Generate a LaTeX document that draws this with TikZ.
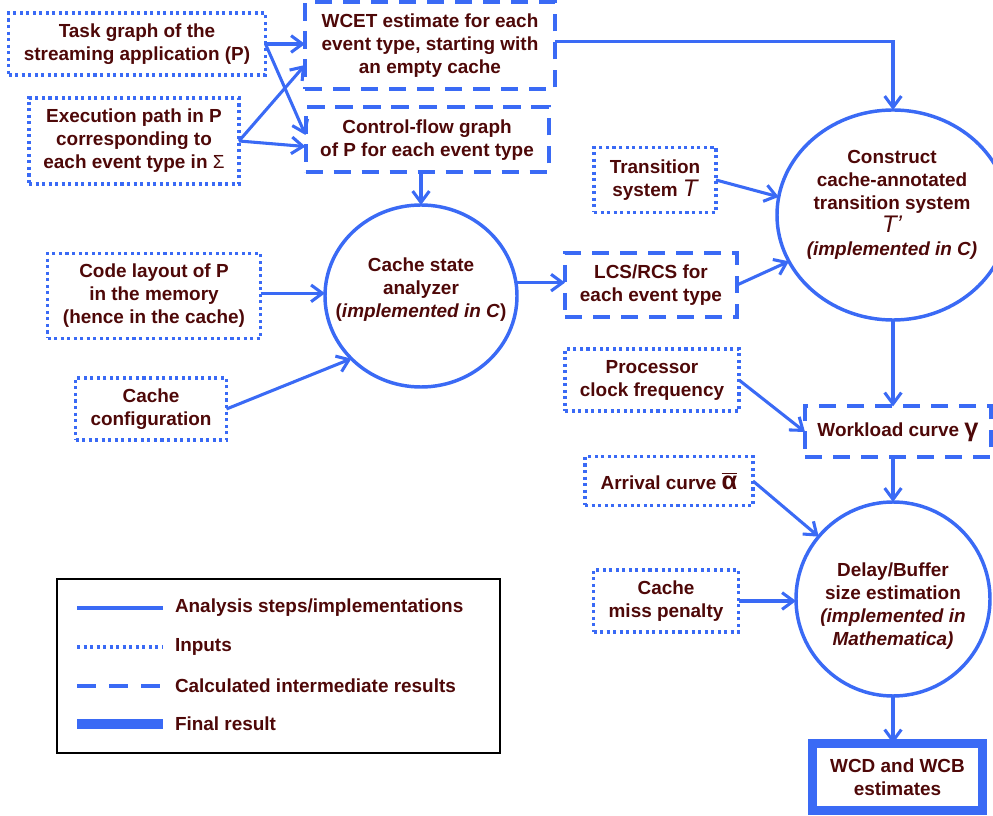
\documentclass[tikz,border=0pt]{standalone}
\usepackage{fontspec}
\setmainfont{Liberation Sans}
\usetikzlibrary{arrows.meta,shapes.geometric,calc}
\definecolor{myblue}{RGB}{58,106,245}
\definecolor{txt}{RGB}{78,8,8}
\begin{document}
\begin{tikzpicture}[x=0.75pt,y=-0.75pt,
  every node/.style={font=\fontsize{14.2}{17.2}\selectfont\bfseries, text=txt, align=center, inner sep=0pt, outer sep=0pt},
  sz/.style 2 args={minimum width=#1*0.75pt, minimum height=#2*0.75pt},
  inbox/.style={draw=myblue, line width=2.4pt, dash pattern=on 2.3pt off 2.6pt, rectangle},
  calcbox/.style={draw=myblue, line width=3pt, dash pattern=on 13pt off 8pt, rectangle},
  procnode/.style={draw=myblue, line width=2.6pt, ellipse},
  finalbox/.style={draw=myblue, line width=6.75pt, rectangle},
  conn/.style={draw=myblue, line width=2.3pt, -{Straight Barb[length=8.5pt,width=12.5pt,line width=2.3pt]}},
  ]
\useasboundingbox (0,0) rectangle (993,816);

% inputs
\node[inbox, sz={257}{62}] (task) at (137,44) {Task graph of the\\streaming application (P)};
\node[inbox, sz={210}{86}] (exec) at (134,141) {Execution path in P\\corresponding to\\each event type in {\mdseries Σ}};
\node[inbox, sz={122}{65}] (trans) at (655,180) {Transition\\system {\mdseries\itshape\fontsize{18}{17.2}\selectfont T}};
\node[inbox, sz={213}{85}] (code) at (154,296) {Code layout of P\\in the memory\\(hence in the cache)};
\node[inbox, sz={151}{62}] (cconf) at (151,409) {Cache\\configuration};
\node[inbox, sz={174}{62}] (proc) at (652,380) {Processor\\clock frequency};
\node[inbox, sz={168}{49}] (arr) at (669,481) {Arrival curve $\overline{\mbox{\bfseries\fontsize{19}{17}\selectfont α}}$};
\node[inbox, sz={145}{62}] (miss) at (666,601) {Cache\\miss penalty};

% intermediate results
\node[calcbox, sz={250}{87}] (wcet) at (430,46) {WCET estimate for each\\event type, starting with\\an empty cache};
\node[calcbox, sz={243}{65}] (cfg) at (427,140) {Control-flow graph\\of P for each event type};
\node[calcbox, sz={172}{64}] (lcs) at (651,285) {LCS/RCS for\\each event type};
\node[calcbox, sz={186}{51}] (work) at (898,432) {Workload curve {\fontsize{19}{17}\selectfont γ}};

% analysis steps
\node[procnode, sz={232}{210}] (construct) at (893,215) {};
\node (constructtxt) at (892,205) {Construct\\cache-annotated\\transition system\\{\mdseries\itshape\fontsize{18}{17.2}\selectfont T’}\\{\itshape (implemented in C)}};
\node[procnode, sz={192}{182}] (anal) at (421,296) {};
\node (analtxt) at (421,290) {Cache state\\analyzer\\(\textit{implemented in C})};
\node[procnode, sz={194}{194}] (delay) at (893,599) {};
\node (delaytxt) at (893,606) {Delay/Buffer\\size estimation\\{\itshape (implemented in}\\{\itshape Mathematica)}};

% final result
\node[finalbox, sz={170}{67}] (wcd) at (897.5,777) {WCD and WCB\\estimates};

% connectors
\draw[conn] (task.east) -- (wcet.west |- task.east);
\draw[conn] (task.east) -- ([yshift=3.75pt]cfg.west);
\draw[conn] (exec.east) -- ([yshift=-14.25pt]wcet.west);
\draw[conn] (exec.east) -- ([yshift=-4.9pt]cfg.west);
\draw[conn] ([yshift=3.4pt]wcet.east) -| (construct.north);
\draw[conn] (cfg.south -| anal.north) -- (anal.north);
\draw[conn] ([yshift=2pt]code.east) -- ([yshift=2pt]anal.west);
\draw[conn] (cconf.east) -- (anal.222);
\draw[conn] (anal.8) -- (anal.8 -| lcs.west);
\draw[conn] (lcs.east) -- (construct.204);
\draw[conn] (trans.east) -- (construct.171);
\draw[conn] (construct.south) -- (construct.south |- work.north);
\draw[conn] (proc.east) -- (work.west);
\draw[conn] (delay.north |- work.south) -- (delay.north);
\draw[conn] (arr.east) -- (delay.140);
\draw[conn] (miss.east) -- (miss.east -| delay.west);
\draw[conn] (delay.south) -- (delay.south |- wcd.north);

% legend
\node[draw=black, line width=1.6pt, sz={443}{174}] (legend) at (278.5,666) {};
\draw[myblue, line width=2.3pt] (77,608) -- (163,608);
\draw[myblue, line width=2.3pt, dash pattern=on 2.3pt off 2.6pt] (77,647) -- (163,647);
\draw[myblue, line width=3pt, dash pattern=on 14pt off 10pt] (77,686) -- (163,686);
\draw[myblue, line width=7.5pt] (77,724) -- (163,724);
\node[anchor=west] (l1) at (175,608) {Analysis steps/implementations};
\node[anchor=west] (l2) at (175,647) {Inputs};
\node[anchor=west] (l3) at (175,686) {Calculated intermediate results};
\node[anchor=west] (l4) at (175,724) {Final result};
\end{tikzpicture}
\end{document}
